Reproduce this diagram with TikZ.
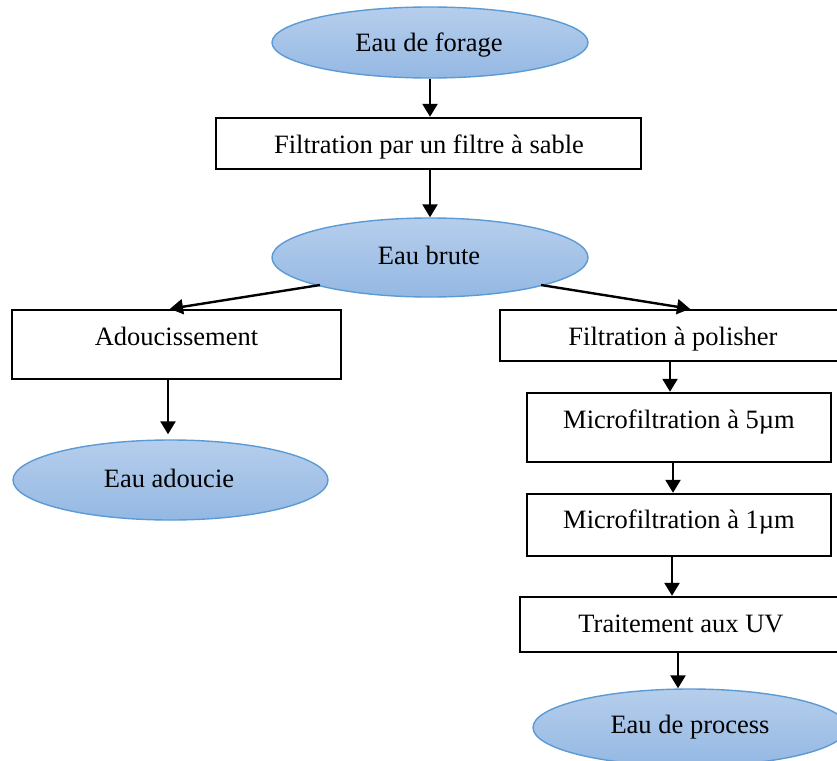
\documentclass[tikz,border=0pt]{standalone}
\usepackage{fontspec}
\setmainfont{Liberation Serif}
\usetikzlibrary{arrows.meta,calc,shapes.geometric}
\definecolor{ellborder}{RGB}{91,155,213}
\definecolor{elltop}{RGB}{182,206,236}
\definecolor{ellbot}{RGB}{148,184,227}
\tikzset{
  ell/.style={ellipse, draw=ellborder, line width=1.4pt, top color=elltop, bottom color=ellbot, inner sep=0pt},
  stepbox/.style={rectangle, draw=black, line width=2.4pt, fill=white, inner sep=0pt},
  txt/.style={anchor=base, inner sep=0pt, font=\fontsize{26.5}{30}\selectfont},
  arr/.style={draw=black, line width=2.4pt, -{Triangle[width=15pt,length=13pt]}}
}
\begin{document}
\begin{tikzpicture}[x=1pt,y=-1pt]
\clip (0,0) rectangle (837,760);
\useasboundingbox (0,0) rectangle (837,760);
\fill[white] (0,0) rectangle (837,760);
% shapes
\node[ell, minimum width=316pt, minimum height=71pt] (forage) at (430,42.5) {};
\node[stepbox, minimum width=425pt, minimum height=51pt] (filtre) at (428.5,143.5) {};
\node[ell, minimum width=316pt, minimum height=79pt] (brute) at (430,257.5) {};
\node[stepbox, minimum width=329pt, minimum height=69pt] (adou) at (176.5,344.5) {};
\node[ell, minimum width=315pt, minimum height=80pt] (adoucie) at (170.5,480) {};
\node[stepbox, minimum width=346pt, minimum height=51pt] (polish) at (673,335.5) {};
\node[stepbox, minimum width=304pt, minimum height=69pt] (micro5) at (679,427.5) {};
\node[stepbox, minimum width=304pt, minimum height=62pt] (micro1) at (679,525) {};
\node[stepbox, minimum width=322pt, minimum height=55pt] (uv) at (681,624.5) {};
\node[ell, minimum width=314pt, minimum height=77pt] (process) at (690,727.5) {};
% texts
\node[txt] (tforage) at (429,52) {Eau de forage};
\node[txt] (tfiltre) at (429,153) {Filtration par un filtre à sable};
\node[txt] (tbrute) at (429,264) {Eau brute};
\node[txt] (tadou) at (176.5,345) {Adoucissement};
\node[txt] (tadoucie) at (169,487) {Eau adoucie};
\node[txt] (tpolish) at (673,345) {Filtration à polisher};
\node[txt] (tmicro5) at (679,428) {Microfiltration à 5µm};
\node[txt] (tmicro1) at (679,528) {Microfiltration à 1µm};
\node[txt] (tuv) at (681,632) {Traitement aux UV};
\node[txt] (tprocess) at (690,733) {Eau de process};
% connectors
\draw[arr] (forage.south) -- ($(filtre.north)+(1.5,0)$);
\draw[arr] ($(filtre.south)+(1.5,0)$) -- (brute.north);
\coordinate (bl) at ($(brute.center)+(-110,27.5)$);
\coordinate (br) at ($(brute.center)+(111,27.5)$);
\draw[arr] (bl) -- ($(adou.north)+(-6.5,0)$);
\draw[arr] (br) -- ($(polish.north)+(17,0)$);
\draw[arr] ($(adou.south)+(-8.5,0)$) -- ($(adoucie.north)+(-2.5,-5)$);
\draw[arr] ($(polish.south)+(-3,0)$) -- ($(micro5.north)+(-9,0)$);
\draw[arr] ($(micro5.south)+(-6,0)$) -- ($(micro1.north)+(-6,0)$);
\draw[arr] ($(micro1.south)+(-7,0)$) -- ($(uv.north)+(-9,0)$);
\draw[arr] ($(uv.south)+(-3,0)$) -- ($(process.north)+(-12,0)$);
\end{tikzpicture}
\end{document}
